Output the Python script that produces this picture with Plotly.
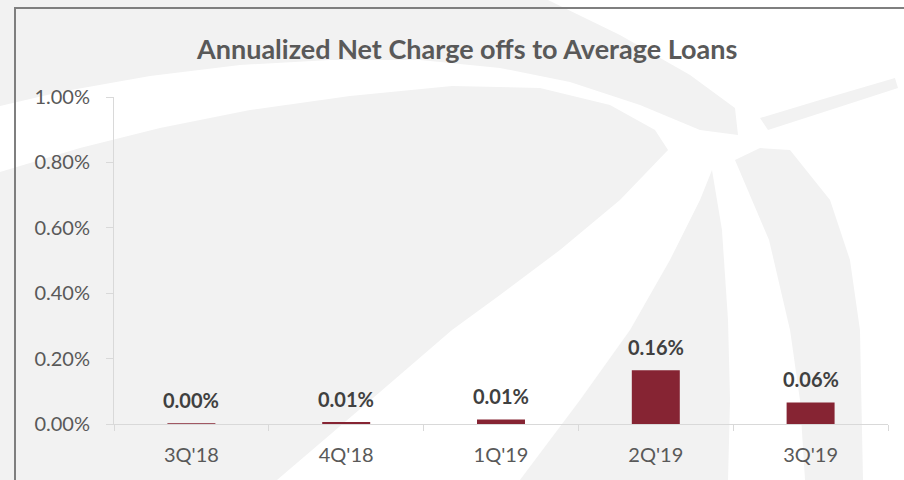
import plotly.graph_objects as go

# ---- data ----
categories = ["3Q'18", "4Q'18", "1Q'19", "2Q'19", "3Q'19"]
values = [0.002, 0.006, 0.014, 0.164, 0.066]          # percent
value_labels = ["0.00%", "0.01%", "0.01%", "0.16%", "0.06%"]
title_text = "Annualized Net Charge offs to Average Loans"

# ---- layout geometry (pixels) ----
W, H = 904, 480
L, R, T, B = 114, 16, 97, 56
PW, PH = W - L - R, H - T - B


def px(x, y):
    return (x - L) / PW, 1 - (y - T) / PH


def path(points):
    s = ""
    for i, (x, y) in enumerate(points):
        u, v = px(x, y)
        s += ("M" if i == 0 else "L") + f"{u:.4f},{v:.4f} "
    return s + "Z"


GRAY = "#f2f2f2"
watermark = [
    [(0, 0), (548, 0), (620, 35), (690, 75), (735, 108), (738, 135), (700, 130), (640, 105),
     (570, 82), (500, 68), (420, 60), (330, 60), (240, 65), (150, 76), (60, 92), (0, 106)],
    [(0, 172), (80, 148), (160, 128), (250, 110), (350, 96), (452, 86), (540, 88), (610, 105),
     (655, 130), (668, 150), (620, 200), (560, 250), (500, 295), (452, 330), (380, 392),
     (277, 480), (0, 480)],
    [(520, 480), (580, 400), (630, 330), (670, 260), (700, 200), (712, 170), (722, 230),
     (728, 320), (730, 400), (728, 480)],
    [(735, 160), (760, 148), (790, 150), (830, 200), (850, 260), (860, 330), (863, 480),
     (805, 480), (800, 400), (790, 330), (769, 240)],
    [(760, 118), (820, 100), (895, 78), (898, 88), (830, 110), (768, 130)],
]

shapes = []
for poly in watermark:
    shapes.append(dict(type="path", xref="paper", yref="paper", path=path(poly),
                       fillcolor=GRAY, line=dict(width=0), layer="below"))

x0, y0 = px(15, 8)
x1, y1 = px(930, 520)
shapes.append(dict(type="rect", xref="paper", yref="paper", x0=x0, y0=y0, x1=x1, y1=y1,
                   line=dict(color="#7f7f7f", width=2), fillcolor="rgba(0,0,0,0)", layer="above"))

FONT = "Lato"

fig = go.Figure()
fig.add_trace(go.Bar(x=categories, y=values, marker=dict(color="#862433", line=dict(width=0)),
                     hoverinfo="skip"))

annotations = []
for c, v, t in zip(categories, values, value_labels):
    annotations.append(dict(x=c, y=v, xref="x", yref="y", text=f"<b>{t}</b>", showarrow=False,
                            yanchor="bottom", yshift=9,
                            font=dict(family=FONT, size=20, color="#404040")))

tu, tv = px(466, 48)
annotations.append(dict(x=tu, y=tv, xref="paper", yref="paper", text=f"<b>{title_text}</b>",
                        showarrow=False, xanchor="center", yanchor="middle",
                        font=dict(family=FONT, size=27, color="#595959")))

fig.update_layout(
    width=W, height=H,
    margin=dict(l=L, r=R, t=T, b=B),
    paper_bgcolor="white",
    plot_bgcolor="rgba(0,0,0,0)",
    showlegend=False,
    bargap=0.69,
    shapes=shapes,
    annotations=annotations,
    font=dict(family=FONT, size=20, color="#595959"),
)
fig.update_yaxes(range=[0, 1.0], dtick=0.2, tickformat=".2f", ticksuffix="%",
                 showline=True, linecolor="#d9d9d9", linewidth=1,
                 ticks="outside", ticklen=7, tickcolor="#d9d9d9",
                 showgrid=False, zeroline=False, ticklabelstandoff=12,
                 tickfont=dict(family=FONT, size=20, color="#595959"))
fig.update_xaxes(type="category", showline=True, linecolor="#d9d9d9", linewidth=1,
                 ticks="outside", tickson="boundaries", ticklen=6, tickcolor="#d9d9d9",
                 showgrid=False, ticklabelstandoff=13,
                 tickfont=dict(family=FONT, size=20, color="#595959"))

fig.write_html("out.html", config={"displayModeBar": False, "staticPlot": True},
               post_script="document.body.style.margin='0';document.body.style.overflow='hidden';")
